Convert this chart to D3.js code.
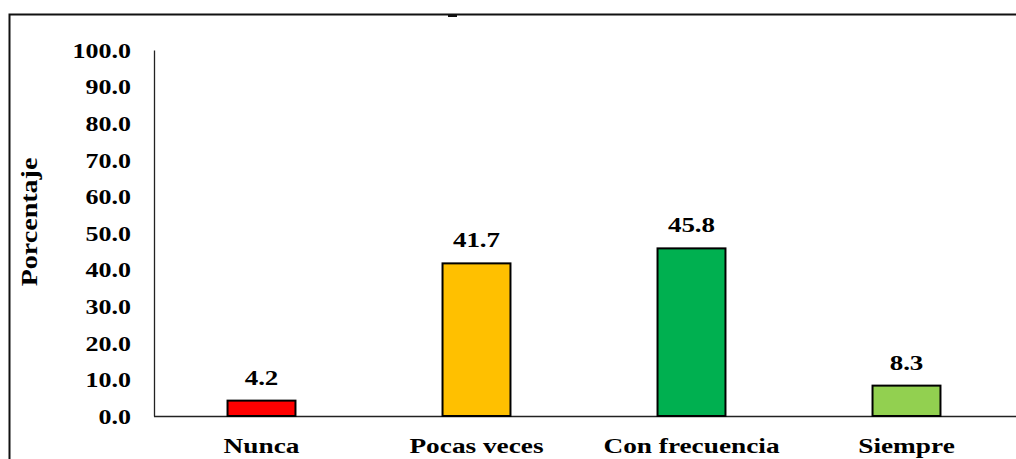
<!DOCTYPE html>
<html>
<head>
<meta charset="utf-8">
<script src="https://cdn.jsdelivr.net/npm/d3@7"></script>
<style>
  html, body { margin: 0; padding: 0; background: #fff; }
  svg { display: block; }
  text { font-family: "Liberation Serif", "Times New Roman", serif; font-weight: bold; fill: #000; }
</style>
</head>
<body>
<svg id="chart" width="1016" height="459"></svg>
<script>
// Responses and their percentages
const categories = ["Nunca", "Pocas veces", "Con frecuencia", "Siempre"];
const values = [4.2, 41.7, 45.8, 8.3];
const colors = ["#FF0000", "#FFC000", "#00B050", "#92D050"];
const yTicks = [0, 10, 20, 30, 40, 50, 60, 70, 80, 90, 100];
const yTitle = "Porcentaje";

const svg = d3.select("#chart");
const W = 1016, H = 459;
const plot = { left: 154, right: 1014, top: 50, bottom: 416 };
const SX = 1.3; // horizontal widening of the lettering

// Outer chart frame (continues past the visible window on right and bottom)
svg.append("rect")
  .attr("x", 9.5).attr("y", 14.5)
  .attr("width", W + 20).attr("height", H + 20)
  .attr("fill", "none").attr("stroke", "#111").attr("stroke-width", 2);
svg.append("rect")
  .attr("x", 448).attr("y", 15).attr("width", 9).attr("height", 2)
  .attr("fill", "#111");

const x = d3.scaleBand().domain(categories)
  .range([plot.left, plot.right]).paddingInner(0.684).paddingOuter(0.342);
const y = d3.scaleLinear().domain([0, 100]).range([plot.bottom, plot.top]);

// Y axis
const yAxis = svg.append("g").attr("transform", `translate(${plot.left},0)`)
  .call(d3.axisLeft(y).tickValues(yTicks).tickFormat(d3.format(".1f")).tickSize(0).tickPadding(23));
yAxis.select(".domain").attr("stroke", "#222").attr("stroke-width", 1.3);
yAxis.selectAll("text")
  .style("font-size", "20px").attr("font-family", null)
  .attr("x", -23 / SX).attr("dy", "0.36em")
  .attr("transform", `scale(${SX},1)`);

// X axis
const xAxis = svg.append("g").attr("transform", `translate(0,${plot.bottom})`)
  .call(d3.axisBottom(x).tickSize(0).tickPadding(22));
xAxis.select(".domain").attr("stroke", "#222").attr("stroke-width", 1.3)
  .attr("d", `M${plot.left},0.5H${W}`);
xAxis.selectAll("text")
  .style("font-size", "21px").attr("font-family", null)
  .attr("transform", `scale(${SX},1)`);

// Bars
svg.append("g").selectAll("rect").data(values).join("rect")
  .attr("x", (d, i) => x(categories[i]))
  .attr("y", d => y(d))
  .attr("width", x.bandwidth())
  .attr("height", d => y(0) - y(d))
  .attr("fill", (d, i) => colors[i])
  .attr("stroke", "#000").attr("stroke-width", 2);

// Value labels
svg.append("g").selectAll("text").data(values).join("text")
  .attr("transform", (d, i) =>
    `translate(${x(categories[i]) + x.bandwidth() / 2},${y(d) - 16}) scale(1.35,1)`)
  .attr("text-anchor", "middle")
  .style("font-size", "20px")
  .text(d => d3.format(".1f")(d));

// Y title
svg.append("text")
  .attr("transform", `translate(37,222) rotate(-90) scale(1.22,1)`)
  .attr("text-anchor", "middle")
  .style("font-size", "23px")
  .text(yTitle);
</script>
</body>
</html>
